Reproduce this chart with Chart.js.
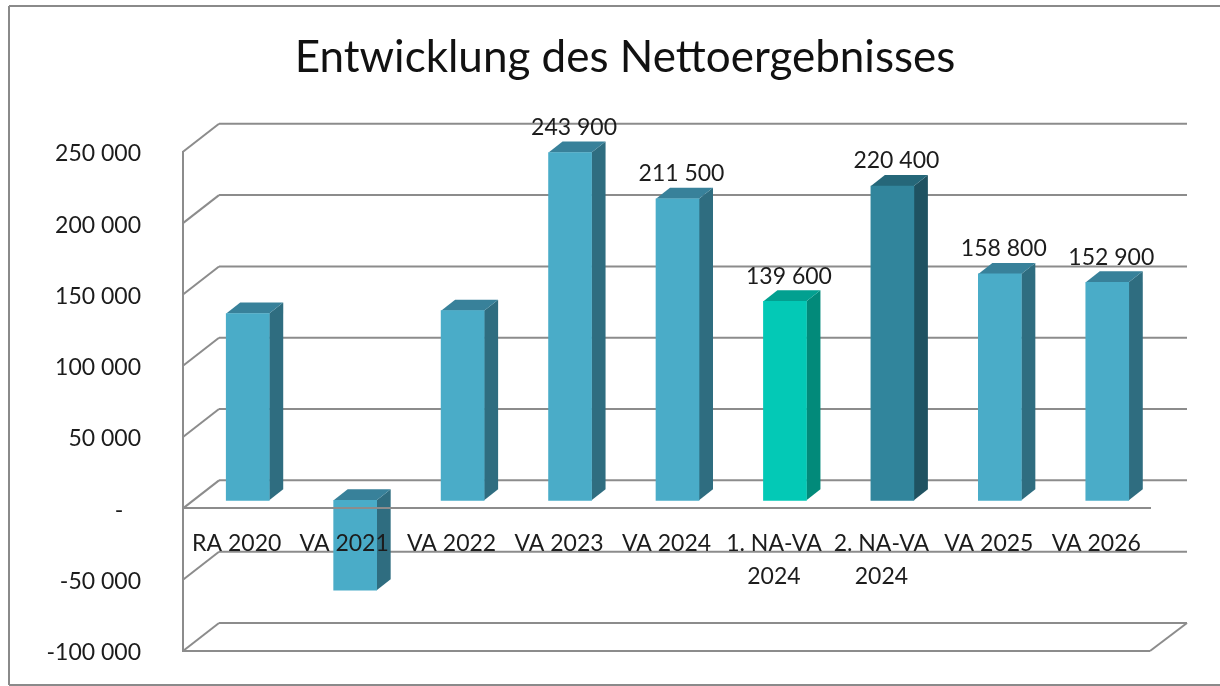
<!DOCTYPE html>
<html>
<head>
<meta charset="utf-8">
<title>Entwicklung des Nettoergebnisses</title>
<script src="https://cdn.jsdelivr.net/npm/chart.js@4"></script>
<style>
  html, body { margin: 0; padding: 0; background: #fff; }
  canvas { display: block; }
</style>
</head>
<body>
<canvas id="chart" width="1220" height="686"></canvas>
<script>
// Chart data
const categories = ["RA 2020", "VA 2021", "VA 2022", "VA 2023", "VA 2024", ["1. NA-VA", "2024"], ["2. NA-VA", "2024"], "VA 2025", "VA 2026"];
const nettoErgebnis = [131000, -63000, 133000, 243900, 211500, 139600, 220400, 158800, 152900];
const valueLabels = [null, null, null, "243 900", "211 500", "139 600", "220 400", "158 800", "152 900"];
const yMin = -100000;
const yMax = 250000;
const yStep = 50000;

const FONT = "Lato, Carlito, sans-serif";
const TEXT_COLOR = "#1c1c1c";
const GRID_COLOR = "#8c8c8c";

// Faces of the 3D columns: front, side, top
const normalFaces = { front: "#4aacc8", side: "#2f6d80", top: "#38819a" };
const faceStyles = {
  5: { front: "#03c9b6", side: "#028a7a", top: "#02a090" },
  6: { front: "#31859c", side: "#1f5261", top: "#256779" },
};
function facesFor(index) {
  return faceStyles[index] || normalFaces;
}

// Depth of the wall behind the plot and of the columns
const wallDepth = { x: 36, y: -28 };
const barPlane = { x: 11, y: -8 };
const barDepth = { x: 14, y: -11 };

function line(ctx, x1, y1, x2, y2) {
  ctx.beginPath();
  ctx.moveTo(x1, y1);
  ctx.lineTo(x2, y2);
  ctx.stroke();
}

function polygon(ctx, points, color) {
  ctx.fillStyle = color;
  ctx.beginPath();
  points.forEach((p, i) => (i ? ctx.lineTo(p[0], p[1]) : ctx.moveTo(p[0], p[1])));
  ctx.closePath();
  ctx.fill();
}

// Frame of the chart object, the right side is cut off in the picture
const framePlugin = {
  id: "frame",
  afterLayout(chart) {
    // Title is centred on the frame, not on the plot
    chart.titleBlock.left += 57;
  },
  beforeDraw(chart) {
    const ctx = chart.ctx;
    ctx.save();
    ctx.fillStyle = "#fff";
    ctx.fillRect(0, 0, chart.width, chart.height);
    ctx.strokeStyle = "#8a8a8a";
    ctx.lineWidth = 2;
    line(ctx, 9, 6, chart.width, 6);
    line(ctx, 9, 6, 9, 685);
    line(ctx, 9, 685, chart.width, 685);
    ctx.restore();
  },
};

// Fake 3D: back wall, floor and column faces, all from the chart scales
const depthPlugin = {
  id: "depth",
  beforeDatasetsDraw(chart) {
    const ctx = chart.ctx;
    const { left, right } = chart.chartArea;
    const yScale = chart.scales.y;

    ctx.save();
    ctx.strokeStyle = GRID_COLOR;
    ctx.lineWidth = 2;
    yScale.ticks.forEach((tick) => {
      const y = yScale.getPixelForValue(tick.value);
      line(ctx, left, y, left + wallDepth.x, y + wallDepth.y);
      line(ctx, left + wallDepth.x, y + wallDepth.y, right + wallDepth.x + 1, y + wallDepth.y);
    });
    const floorY = yScale.getPixelForValue(yMin);
    line(ctx, left, floorY, right, floorY);
    line(ctx, right, floorY, right + wallDepth.x + 1, floorY + wallDepth.y);
    ctx.restore();

    // Columns stand a little behind the front axis, restored in afterDatasetsDraw
    ctx.save();
    ctx.translate(barPlane.x, barPlane.y);
    chart.getDatasetMeta(0).data.forEach((bar, i) => {
      const faces = facesFor(i);
      const x1 = bar.x - bar.width / 2;
      const x2 = bar.x + bar.width / 2;
      const top = Math.min(bar.y, bar.base);
      const bottom = Math.max(bar.y, bar.base);
      polygon(ctx, [
        [x2, top],
        [x2 + barDepth.x, top + barDepth.y],
        [x2 + barDepth.x, bottom + barDepth.y],
        [x2, bottom],
      ], faces.side);
      polygon(ctx, [
        [x1, top],
        [x1 + barDepth.x, top + barDepth.y],
        [x2 + barDepth.x, top + barDepth.y],
        [x2, top],
      ], faces.top);
    });
  },
  afterDatasetsDraw(chart) {
    const ctx = chart.ctx;
    ctx.restore();

    // Value labels above the columns
    ctx.save();
    ctx.font = "23px " + FONT;
    ctx.fillStyle = TEXT_COLOR;
    ctx.textAlign = "center";
    ctx.textBaseline = "middle";
    chart.getDatasetMeta(0).data.forEach((bar, i) => {
      if (valueLabels[i]) {
        ctx.fillText(valueLabels[i], bar.x + barPlane.x + 4, bar.y + barPlane.y - 25);
      }
    });
    ctx.restore();
  },
};

new Chart(document.getElementById("chart"), {
  type: "bar",
  data: {
    labels: categories,
    datasets: [
      {
        data: nettoErgebnis,
        backgroundColor: (c) => facesFor(c.dataIndex).front,
        barThickness: 43,
        borderWidth: 0,
        clip: false,
      },
    ],
  },
  plugins: [framePlugin, depthPlugin],
  options: {
    responsive: false,
    animation: false,
    layout: {
      padding: { left: 43, right: 70, top: 0, bottom: 35 },
    },
    plugins: {
      legend: { display: false },
      tooltip: { enabled: false },
      title: {
        display: true,
        text: "Entwicklung des Nettoergebnisses",
        color: "#111",
        font: { family: FONT, size: 44, weight: "normal", lineHeight: 1.2 },
        padding: { top: 31, bottom: 68 },
      },
    },
    scales: {
      x: {
        position: { y: 0 },
        afterFit(scale) {
          scale.height = 0;
          scale.paddingLeft = 0;
          scale.paddingRight = 0;
        },
        grid: { display: false, drawTicks: false },
        border: { color: GRID_COLOR, width: 2, z: 1 },
        ticks: {
          z: 1,
          color: TEXT_COLOR,
          padding: 19,
          autoSkip: false,
          maxRotation: 0,
          font: { family: FONT, size: 23, lineHeight: 1.43 },
        },
      },
      y: {
        min: yMin,
        max: yMax,
        afterFit(scale) {
          scale.width = 140;
          scale.paddingTop = 0;
          scale.paddingBottom = 0;
        },
        grid: { display: false, drawTicks: false },
        border: { color: GRID_COLOR, width: 2 },
        ticks: {
          stepSize: yStep,
          color: TEXT_COLOR,
          padding: 42,
          labelOffset: 2,
          font: { family: FONT, size: 23 },
          callback: function (value) {
            // Zero is a dash with accounting style padding on the right
            if (value === 0) return "-\u00a0\u00a0\u00a0";
            const digits = String(Math.abs(value));
            const text = digits.slice(0, -3) + " " + digits.slice(-3);
            return value < 0 ? "-" + text : text;
          },
        },
      },
    },
  },
});
</script>
</body>
</html>
